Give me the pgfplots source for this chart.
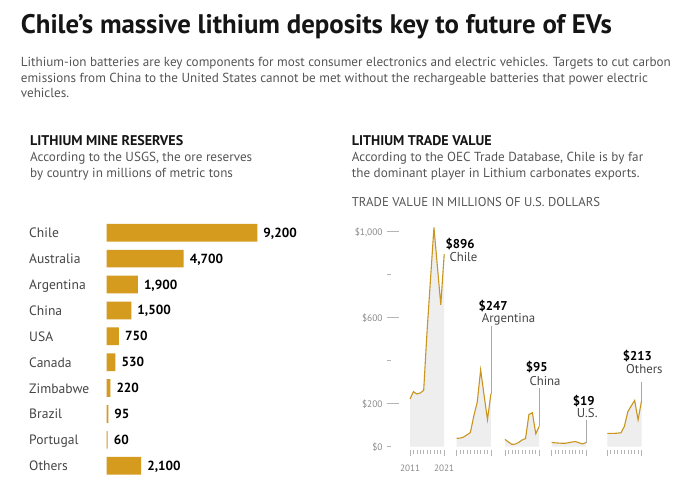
\documentclass[border=0pt]{standalone}
\usepackage{fontspec}
\setmainfont{PT Sans}
\usepackage{pgfplots}
\pgfplotsset{compat=1.18}
\definecolor{bar}{HTML}{D49B1E}
\definecolor{gline}{HTML}{C9951F}
\definecolor{area}{HTML}{EEEEEE}
\definecolor{txt}{HTML}{454545}
\definecolor{txtl}{HTML}{555555}
\definecolor{head}{HTML}{151515}
\definecolor{tickc}{HTML}{B4B4B4}
\definecolor{tickt}{HTML}{8A8A8A}
\definecolor{leader}{HTML}{A8A8A8}
\newlength\mw
\newcommand\fitfs[4]{\settowidth\mw{#2\fontsize{10bp}{12bp}\selectfont #4}\pgfmathsetmacro#1{10*#3*1.00375/\mw}}
\newcommand\F[1]{\fontsize{#1bp}{#1bp}\selectfont}
\pgfplotsset{panel/.style={anchor=south west, scale only axis, width=34.2bp, height=225.75bp,
  xmin=2011, xmax=2021, ymin=0, ymax=1050, axis y line=none, axis x line*=bottom,
  x axis line style={draw=none}, axis x line shift=3.5bp,
  xtick={2012,...,2020}, xticklabels={}, tick align=outside, major tick length=4bp,
  xtick style={draw=tickc, line width=0.6bp},
  extra x ticks={2011,2021}, extra x tick labels={}, extra x tick style={major tick length=6bp},
  clip=false}}
\begin{document}%
\fitfs{\fsTitle}{\bfseries}{591}{Chile’s massive lithium deposits key to future of EVs}%
\fitfs{\fsSub}{}{650}{Lithium-ion batteries are key components for most consumer electronics and electric vehicles. Targets to cut carbon}%
\fitfs{\fsHead}{\bfseries}{153}{LITHIUM MINE RESERVES}%
\fitfs{\fsDesc}{}{222}{According to the USGS, the ore reserves}%
\fitfs{\fsUnit}{}{248.3}{TRADE VALUE IN MILLIONS OF U.S. DOLLARS}%
\fitfs{\fsCat}{}{60}{Zimbabwe}%
\fitfs{\fsVal}{\bfseries}{33.3}{9,200}%
\fitfs{\fsTV}{\bfseries}{29}{\$896}%
\fitfs{\fsTN}{}{53.3}{Argentina}%
\fitfs{\fsTick}{}{27.7}{\$1,000}%
\fitfs{\fsYear}{}{20}{2011}%
\begin{tikzpicture}
\useasboundingbox (0,0) rectangle (690bp,-496bp);
\fill[white] (0,0) rectangle (690bp,-496bp);
% titles
\node[anchor=base west, inner sep=0pt, text=head, font=\bfseries\F{\fsTitle}] at (20.7bp,-33.3bp) {Chile’s massive lithium deposits key to future of EVs};
\begin{scope}[every node/.style={anchor=base west, inner sep=0pt, text=txtl, font=\F{\fsSub}}]
\node at (20.7bp,-66bp) {Lithium-ion batteries are key components for most consumer electronics and electric vehicles. Targets to cut carbon};
\node at (20.7bp,-82.3bp) {emissions from China to the United States cannot be met without the rechargeable batteries that power electric};
\node at (20.7bp,-97.7bp) {vehicles.};
\end{scope}
\begin{scope}[every node/.style={anchor=base west, inner sep=0pt, text=head, font=\bfseries\F{\fsHead}}]
\node at (30bp,-145.5bp) {LITHIUM MINE RESERVES};
\node at (351.7bp,-145.5bp) {LITHIUM TRADE VALUE};
\end{scope}
\begin{scope}[every node/.style={anchor=base west, inner sep=0pt, text=txtl, font=\F{\fsDesc}}]
\node at (30bp,-161.5bp) {According to the USGS, the ore reserves};
\node at (30bp,-177.5bp) {by country in millions of metric tons};
\node at (351.7bp,-161.5bp) {According to the OEC Trade Database, Chile is by far};
\node at (351.7bp,-177.5bp) {the dominant player in Lithium carbonates exports.};
\end{scope}
\node[anchor=base west, inner sep=0pt, text=txtl, font=\F{\fsUnit}] at (351.7bp,-206bp) {TRADE VALUE IN MILLIONS OF U.S. DOLLARS};
% bar chart
\begin{axis}[at={(106.7bp,-478.7bp)}, anchor=south west, scale only axis,
  width=150.6bp, height=258.9bp,
  xbar, bar width=17.7bp, bar shift=0pt,
  xmin=0, xmax=9200, ymin=-0.5, ymax=9.5, y dir=reverse,
  axis line style={draw=none}, xtick=\empty, ytick={0,...,9},
  yticklabels={Chile,Australia,Argentina,China,USA,Canada,Zimbabwe,Brazil,Portugal,Others},
  ytick style={draw=none},
  yticklabel style={anchor=base west, inner sep=0pt, xshift=-73.4bp, yshift=-5bp, font=\F{\fsCat}, text=txt},
  nodes near coords, point meta=explicit symbolic,
  every node near coord/.append style={anchor=base west, inner sep=0pt, xshift=6bp, yshift=-4.5bp, font=\bfseries\F{\fsVal}, text=black},
  clip=false]
\addplot[fill=bar, draw=none] table[x=v, y=i, meta=lab] {
i v lab
0 9200 9,200
1 4700 4,700
2 1900 1,900
3 1500 1,500
4 750 750
5 530 530
6 220 220
7 95 95
8 60 60
9 2100 2,100
};
\end{axis}
% trade value y axis
\begin{axis}[at={(386.7bp,-446.7bp)}, anchor=south west, scale only axis,
  width=12.6bp, height=225.75bp, xmin=0, xmax=1, ymin=0, ymax=1050,
  axis x line=none, axis y line*=left, y axis line style={draw=none},
  ytick={200,600,1000}, yticklabels={\$200,\$600,{\$1,000}}, minor ytick={400,800},
  tick align=inside, major tick length=12.6bp, minor tick length=4bp,
  ytick style={draw=tickc, line width=0.8bp},
  extra y ticks={0}, extra y tick labels={\$0}, extra y tick style={major tick length=4bp},
  yticklabel style={anchor=base east, inner sep=0pt, xshift=-4bp, yshift=-3.5bp, font=\F{\fsTick}, text=tickt}]
\end{axis}
% Chile
\begin{axis}[panel, at={(410bp,-446.7bp)}]
\addplot[fill=area, draw=none] table {
2011 222
2012 256
2013 245
2014 250
2015 262
2016 540
2017 780
2018 1020
2019 840
2020 660
2021 896
} \closedcycle;
\addplot[gline, line width=1.1bp] table {
2011 222
2012 256
2013 245
2014 250
2015 262
2016 540
2017 780
2018 1020
2019 840
2020 660
2021 896
};
\node[anchor=base, inner sep=0pt, font=\F{\fsYear}, text=tickt] at (axis cs:2011,0) [yshift=-24.3bp] {2011};
\node[anchor=base, inner sep=0pt, font=\F{\fsYear}, text=tickt] at (axis cs:2021,0) [yshift=-24.3bp] {2021};
\end{axis}
% Argentina
\begin{axis}[panel, at={(456.7bp,-446.7bp)}]
\addplot[fill=area, draw=none] table {
2011 39
2012 40
2013 45
2014 55
2015 66
2016 143
2017 207
2018 357
2019 240
2020 126
2021 247
} \closedcycle;
\addplot[gline, line width=1.1bp] table {
2011 39
2012 40
2013 45
2014 55
2015 66
2016 143
2017 207
2018 357
2019 240
2020 126
2021 247
};
\draw[leader, line width=0.6bp] (axis cs:2021,247) -- (axis cs:2021,561);
\end{axis}
% China
\begin{axis}[panel, at={(505bp,-446.7bp)}]
\addplot[fill=area, draw=none] table {
2011 34
2012 22
2013 11
2014 12
2015 20
2016 31
2017 38
2018 150
2019 158
2020 60
2021 95
} \closedcycle;
\addplot[gline, line width=1.1bp] table {
2011 34
2012 22
2013 11
2014 12
2015 20
2016 31
2017 38
2018 150
2019 158
2020 60
2021 95
};
\draw[leader, line width=0.6bp] (axis cs:2021,95) -- (axis cs:2021,273);
\end{axis}
% U.S.
\begin{axis}[panel, at={(551.7bp,-446.7bp)}]
\addplot[fill=area, draw=none] table {
2011 20
2012 18
2013 17
2014 16
2015 16
2016 19
2017 22
2018 24
2019 18
2020 13
2021 19
} \closedcycle;
\addplot[gline, line width=1.1bp] table {
2011 20
2012 18
2013 17
2014 16
2015 16
2016 19
2017 22
2018 24
2019 18
2020 13
2021 19
};
\draw[leader, line width=0.6bp] (axis cs:2021,19) -- (axis cs:2021,124);
\end{axis}
% Others
\begin{axis}[panel, at={(607.3bp,-446.7bp)}]
\addplot[fill=area, draw=none] table {
2011 62
2012 62
2013 62
2014 63
2015 65
2016 95
2017 163
2018 190
2019 215
2020 125
2021 213
} \closedcycle;
\addplot[gline, line width=1.1bp] table {
2011 62
2012 62
2013 62
2014 63
2015 65
2016 95
2017 163
2018 190
2019 215
2020 125
2021 213
};
\draw[leader, line width=0.6bp] (axis cs:2021,213) -- (axis cs:2021,302);
\end{axis}
% value labels for trade panels
\begin{scope}[every node/.style={anchor=base west, inner sep=0pt}]
\node[font=\bfseries\F{\fsTV}, text=black] at (445.3bp,-248.3bp) {\$896};
\node[font=\F{\fsTN}, text=txt] at (449.3bp,-261.7bp) {Chile};
\node[font=\bfseries\F{\fsTV}, text=black] at (478.3bp,-310bp) {\$247};
\node[font=\F{\fsTN}, text=txt] at (481.7bp,-322.3bp) {Argentina};
\node[font=\bfseries\F{\fsTV}, text=black] at (525.7bp,-371.7bp) {\$95};
\node[font=\F{\fsTN}, text=txt] at (529.3bp,-385bp) {China};
\node[font=\bfseries\F{\fsTV}, text=black] at (572.7bp,-405bp) {\$19};
\node[font=\F{\fsTN}, text=txt] at (576.7bp,-417.7bp) {U.S.};
\node[font=\bfseries\F{\fsTV}, text=black] at (622.7bp,-360bp) {\$213};
\node[font=\F{\fsTN}, text=txt] at (626bp,-373.3bp) {Others};
\end{scope}
\end{tikzpicture}%
\end{document}
